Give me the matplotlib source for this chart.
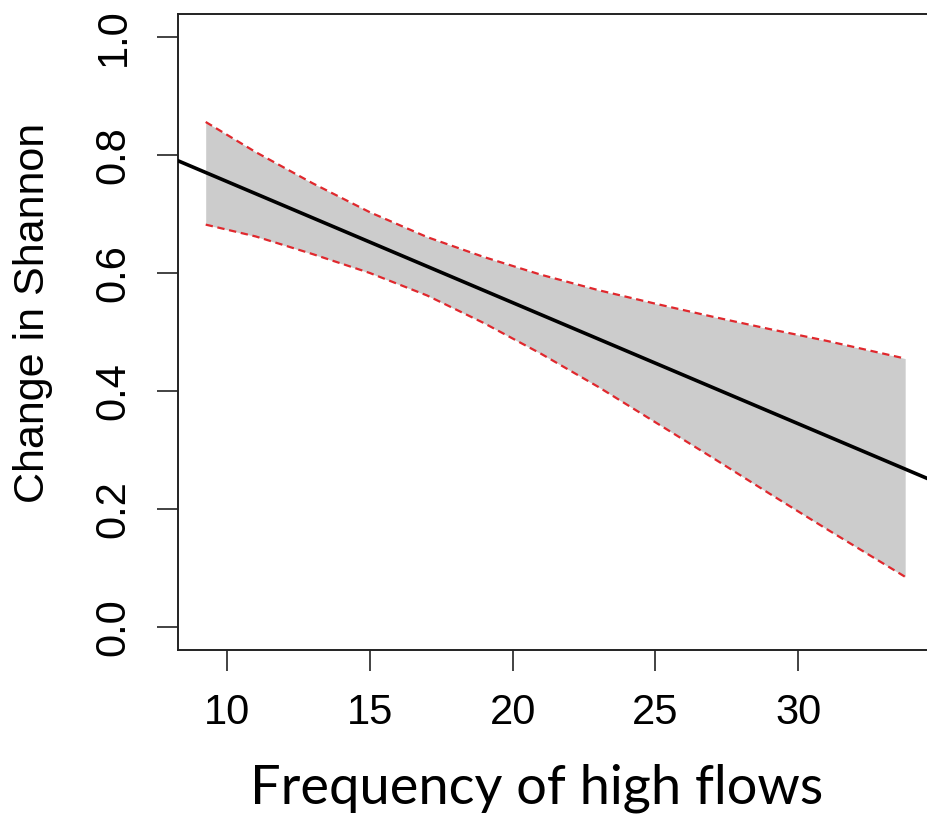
import matplotlib
matplotlib.use('Agg')
import matplotlib.pyplot as plt

# confidence band
band_x = [9.25, 11, 13, 15, 17, 19, 21, 23, 25, 27, 29, 31, 33.75]
band_upper = [0.856, 0.805, 0.752, 0.703, 0.661, 0.627, 0.597, 0.571, 0.548, 0.526, 0.505, 0.485, 0.455]
band_lower = [0.682, 0.662, 0.632, 0.600, 0.562, 0.515, 0.463, 0.407, 0.347, 0.287, 0.226, 0.166, 0.085]

# fitted line, endpoints beyond the plot range (clipped by the axes)
fit_x = [8.0, 35.0]
fit_y = [0.796, 0.242]

x_ticks = [10, 15, 20, 25, 30]
y_ticks = [0.0, 0.2, 0.4, 0.6, 0.8, 1.0]
y_ticklabels = ['0.0', '0.2', '0.4', '0.6', '0.8', '1.0']


def draw_chart():
    fig = plt.figure(figsize=(9.27, 8.21), dpi=100)
    ax = fig.add_axes([178 / 927.0, 1 - 650 / 821.0, (938 - 178) / 927.0, (650 - 14) / 821.0])

    ax.fill_between(band_x, band_lower, band_upper, color='#cccccc', linewidth=0, zorder=1)
    ax.plot(band_x, band_upper, color='#e0282d', linewidth=1.6, linestyle=(0, (3.3, 2.1)), zorder=2)
    ax.plot(band_x, band_lower, color='#e0282d', linewidth=1.6, linestyle=(0, (3.3, 2.1)), zorder=2)
    ax.plot(fit_x, fit_y, color='black', linewidth=2.6, zorder=3)

    ax.set_xlim(8.28, 34.9)
    ax.set_ylim(-0.039, 1.039)
    ax.set_xticks(x_ticks)
    ax.set_xticklabels([str(t) for t in x_ticks], fontsize=30, family='Liberation Sans')
    ax.set_yticks(y_ticks)
    ax.set_yticklabels(y_ticklabels, fontsize=30, family='Liberation Sans',
                       rotation=90, va='center')
    ax.tick_params(axis='both', direction='out', length=15, width=1.2, color='#222222')
    ax.tick_params(axis='x', pad=16)
    ax.tick_params(axis='y', pad=17)
    for side in ['left', 'bottom', 'top', 'right']:
        ax.spines[side].set_linewidth(1.4)
        ax.spines[side].set_color('#222222')

    fig.text(33 / 927.0, 1 - 313 / 821.0, 'Change in Shannon', rotation=90,
             ha='center', va='center', fontsize=31, family='Liberation Sans')
    fig.text(537 / 927.0, 1 - 803 / 821.0, 'Frequency of high flows',
             ha='center', va='baseline', fontsize=39, family='Lato', color='black')

    fig.savefig('out.png', dpi=100)


if __name__ == '__main__':
    draw_chart()
